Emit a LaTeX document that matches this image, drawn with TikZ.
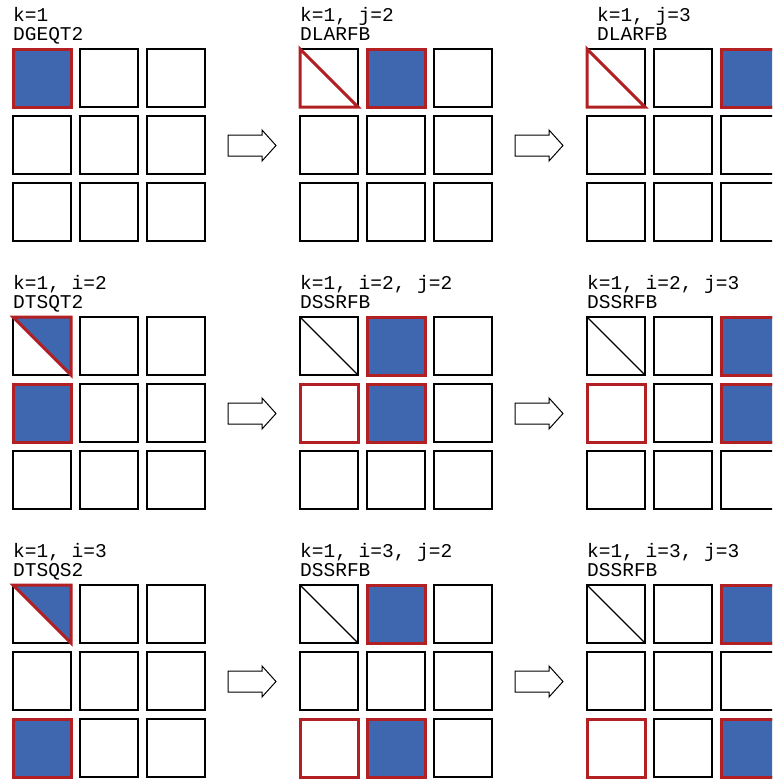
\documentclass[tikz,border=0pt]{standalone}
\usepackage{fontspec}
\newfontfamily\codefont{Liberation Mono}
\definecolor{tileblue}{RGB}{62,103,176}
\definecolor{tilered}{RGB}{178,32,36}

\begin{document}
\begin{tikzpicture}[x=1pt, y=-1pt,
  cell/.style={draw=black, line width=1.1pt, fill=white},
  hot/.style={draw=tilered, line width=3pt},
  hotfill/.style={hot, fill=tileblue},
  diag/.style={draw=black, line width=1.3pt},
  caption/.style={font=\codefont\fontsize{19.5}{19}\selectfont, anchor=base west, inner sep=0pt},
  flow/.style={draw=black, line width=1pt, fill=white, line join=miter}]
  \clip (0,0) rectangle (772,780);

  % nine panels, each with 3 x 3 tiles
  \foreach \c in {0,1,2}
    \foreach \r in {0,1,2}
      \foreach \i in {0,1,2}
        \foreach \j in {0,1,2} {
          \coordinate (p\c\r-\i\j) at ({13+287*\c+67*\j},{49+268*\r+67*\i});
          \draw[cell] (p\c\r-\i\j) rectangle ++(58,58);
        }

  % arrows between panels
  \foreach \c in {0,1}
    \foreach \r in {0,1,2}
      \draw[flow, shift={({287*\c},{268*\r})}]
        (228,135)--(262,135)--(262,130)--(276,145.5)--(262,161)--(262,156)--(228,156)--cycle;

  % k=1
  \draw[hotfill] (p00-00) rectangle ++(58,58);

  \draw[hot] (p10-00) -- ++(0,58) -- ++(58,0) -- cycle;
  \draw[hotfill] (p10-01) rectangle ++(58,58);

  \draw[hot] (p20-00) -- ++(0,58) -- ++(58,0) -- cycle;
  \draw[hotfill] (p20-02) rectangle ++(58,58);

  % i=2
  \draw[hotfill] (p01-00) -- ++(58,0) -- ++(0,58) -- cycle;
  \draw[hotfill] (p01-10) rectangle ++(58,58);

  \draw[diag] (p11-00) -- ++(58,58);
  \draw[hotfill] (p11-01) rectangle ++(58,58);
  \draw[hot] (p11-10) rectangle ++(58,58);
  \draw[hotfill] (p11-11) rectangle ++(58,58);

  \draw[diag] (p21-00) -- ++(58,58);
  \draw[hotfill] (p21-02) rectangle ++(58,58);
  \draw[hot] (p21-10) rectangle ++(58,58);
  \draw[hotfill] (p21-12) rectangle ++(58,58);

  % i=3
  \draw[hotfill] (p02-00) -- ++(58,0) -- ++(0,58) -- cycle;
  \draw[hotfill] (p02-20) rectangle ++(58,58);

  \draw[diag] (p12-00) -- ++(58,58);
  \draw[hotfill] (p12-01) rectangle ++(58,58);
  \draw[hot] (p12-20) rectangle ++(58,58);
  \draw[hotfill] (p12-21) rectangle ++(58,58);

  \draw[diag] (p22-00) -- ++(58,58);
  \draw[hotfill] (p22-02) rectangle ++(58,58);
  \draw[hot] (p22-20) rectangle ++(58,58);
  \draw[hotfill] (p22-22) rectangle ++(58,58);

  % captions
  \node[caption] (t00a) at (13,21) {k=1};
  \node[caption] (t00b) at (13,40) {DGEQT2};
  \node[caption] (t10a) at (300,21) {k=1, j=2};
  \node[caption] (t10b) at (300,40) {DLARFB};
  \node[caption] (t20a) at (597,21) {k=1, j=3};
  \node[caption] (t20b) at (597,40) {DLARFB};

  \node[caption] (t01a) at (13,289) {k=1, i=2};
  \node[caption] (t01b) at (13,308) {DTSQT2};
  \node[caption] (t11a) at (300,289) {k=1, i=2, j=2};
  \node[caption] (t11b) at (300,308) {DSSRFB};
  \node[caption] (t21a) at (587,289) {k=1, i=2, j=3};
  \node[caption] (t21b) at (587,308) {DSSRFB};

  \node[caption] (t02a) at (13,557) {k=1, i=3};
  \node[caption] (t02b) at (13,576) {DTSQS2};
  \node[caption] (t12a) at (300,557) {k=1, i=3, j=2};
  \node[caption] (t12b) at (300,576) {DSSRFB};
  \node[caption] (t22a) at (587,557) {k=1, i=3, j=3};
  \node[caption] (t22b) at (587,576) {DSSRFB};
\end{tikzpicture}
\end{document}
